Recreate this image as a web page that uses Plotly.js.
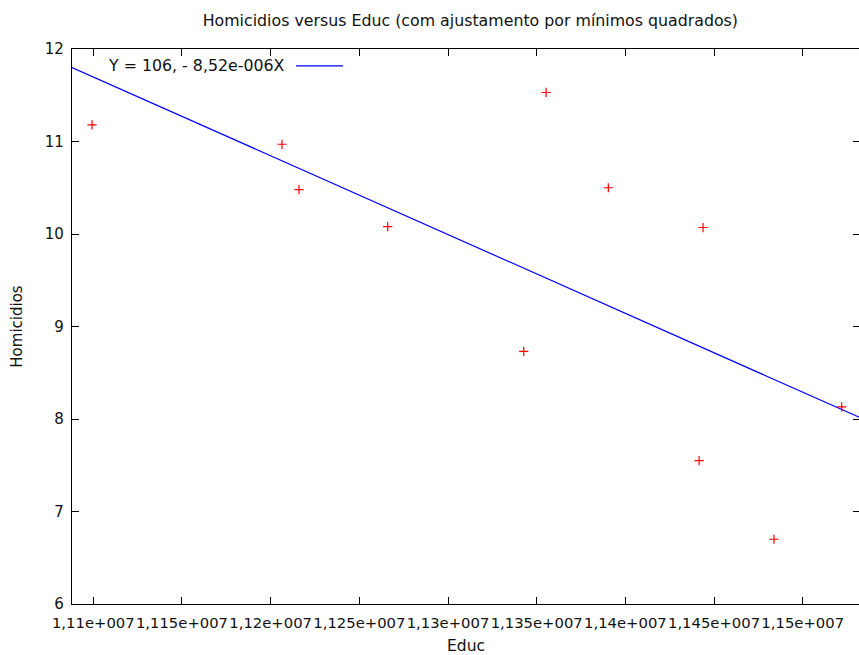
<!DOCTYPE html>
<html>
<head>
<meta charset="utf-8">
<script src="https://cdn.plot.ly/plotly-3.0.1.min.js"></script>
<style>
html,body{margin:0;padding:0;overflow:hidden;background:#fff;}
#chart{width:863px;height:655px;}
</style>
</head>
<body>
<div id="chart"></div>
<script>
// Data
const educ = [11099300, 11206400, 11216000, 11266000, 11342700, 11355300, 11390400, 11443800, 11441600, 11483800, 11522000];
const homicidios = [11.18, 10.97, 10.48, 10.08, 8.73, 11.53, 10.50, 10.07, 7.55, 6.70, 8.13];
// Least squares fit shown in the legend
const fitIntercept = 106.27;
const fitSlope = -8.52e-6;
const fitLabel = "Y = 106, - 8,52e-006X";
// Axis ticks
const xTickVals = [11100000, 11150000, 11200000, 11250000, 11300000, 11350000, 11400000, 11450000, 11500000];
const xTickText = ["1,11e+007", "1,115e+007", "1,12e+007", "1,125e+007", "1,13e+007", "1,135e+007", "1,14e+007", "1,145e+007", "1,15e+007"];
const yTickVals = [6, 7, 8, 9, 10, 11, 12];
const yTickText = ["6", "7", "8", "9", "10", "11", "12"];

const xRange = [11088000, 11532300];
const fitX = xRange.slice();
const fitY = fitX.map(x => fitIntercept + fitSlope * x);

const FONT = "Verdana, 'DejaVu Sans', sans-serif";
const TXT = '#111';

const traces = [
  {
    x: fitX, y: fitY, mode: 'lines', type: 'scatter',
    line: {color: '#0000ff', width: 1.2},
    hoverinfo: 'none', showlegend: false
  },
  {
    x: educ, y: homicidios, mode: 'markers', type: 'scatter',
    marker: {symbol: 'cross-thin-open', size: 6.6, color: '#ff0000', line: {color: '#ff0000', width: 1.2}},
    showlegend: false
  }
];

const layout = {
  width: 863, height: 655,
  margin: {l: 72, r: 3, t: 49, b: 51},
  paper_bgcolor: '#ffffff', plot_bgcolor: '#ffffff',
  font: {family: FONT, size: 15, color: TXT},
  title: {
    text: 'Homicidios versus Educ (com ajustamento por mínimos quadrados)',
    font: {family: FONT, size: 15.8, color: TXT},
    x: 0.545, xanchor: 'center', y: 0.969, yanchor: 'middle'
  },
  xaxis: {
    range: xRange, tickvals: xTickVals, ticktext: xTickText,
    showgrid: false, zeroline: false,
    showline: true, linecolor: '#000', linewidth: 1.2, mirror: 'ticks',
    ticks: 'inside', ticklen: 7, tickcolor: '#000', tickwidth: 1,
    ticklabelstandoff: 5, tickangle: 0,
    tickfont: {family: FONT, size: 14.8, color: TXT},
    title: {text: 'Educ', font: {family: FONT, size: 15.5, color: TXT}, standoff: 17}
  },
  yaxis: {
    range: [6, 12], tickvals: yTickVals, ticktext: yTickText,
    showgrid: false, zeroline: false,
    showline: true, linecolor: '#000', linewidth: 1.2, mirror: 'ticks',
    ticks: 'inside', ticklen: 7, tickcolor: '#000', tickwidth: 1,
    ticklabelstandoff: 4,
    tickfont: {family: FONT, size: 15, color: TXT},
    title: {text: 'Homicidios', font: {family: FONT, size: 15, color: TXT}, standoff: 18}
  },
  annotations: [{
    text: fitLabel, xref: 'paper', yref: 'paper',
    x: 0.2733, y: 0.9695, xanchor: 'right', yanchor: 'middle',
    showarrow: false, font: {family: FONT, size: 15.8, color: TXT}
  }],
  shapes: [{
    type: 'line', xref: 'paper', yref: 'paper',
    x0: 0.2843, x1: 0.3439, y0: 0.9695, y1: 0.9695,
    line: {color: '#0000ff', width: 1.2}
  }]
};

Plotly.newPlot('chart', traces, layout, {displayModeBar: false, staticPlot: true});
</script>
</body>
</html>
